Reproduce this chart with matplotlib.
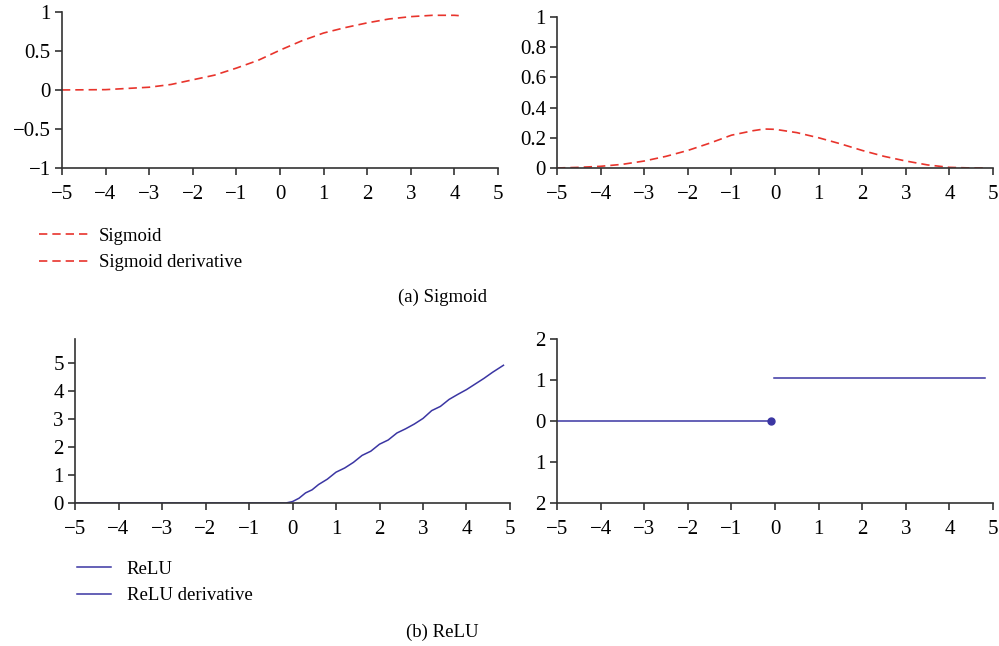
import matplotlib
matplotlib.use('Agg')
import matplotlib.pyplot as plt

plt.rcParams['font.family'] = ['Liberation Serif', 'DejaVu Serif']
plt.rcParams['axes.unicode_minus'] = True

# sigmoid curve
sig_x = [-5, -4, -3, -2.5, -2, -1.5, -1, -0.5, 0, 0.5, 1, 1.5, 2, 2.5, 3, 3.5, 4, 4.1]
sig_y = [0.0, 0.004, 0.035, 0.07, 0.13, 0.19, 0.28, 0.38, 0.51, 0.63, 0.73, 0.80,
         0.86, 0.91, 0.94, 0.957, 0.957, 0.953]

# sigmoid derivative
dsig_x = [-5, -4.5, -4, -3.5, -3, -2.5, -2, -1.5, -1, -0.5, -0.25, 0, 0.5, 1, 1.5,
          2, 2.5, 3, 3.5, 4, 4.5, 4.8]
dsig_y = [0.0, 0.004, 0.011, 0.024, 0.046, 0.077, 0.116, 0.164, 0.217, 0.247, 0.258,
          0.256, 0.234, 0.20, 0.16, 0.116, 0.077, 0.046, 0.02, 0.004, 0.0, 0.0]

# ReLU
relu_x = [-5, -0.15, 0, 0.15, 0.3, 0.45, 0.6, 0.8, 1.0, 1.2, 1.4, 1.6, 1.8, 2.0, 2.2,
          2.4, 2.6, 2.8, 3.0, 3.2, 3.4, 3.6, 3.8, 4.0, 4.2, 4.4, 4.6, 4.85]
relu_y = [0, 0, 0.05, 0.17, 0.36, 0.47, 0.66, 0.85, 1.1, 1.25, 1.45, 1.7, 1.85, 2.1,
          2.25, 2.5, 2.65, 2.82, 3.02, 3.3, 3.45, 3.7, 3.88, 4.05, 4.25, 4.45, 4.67, 4.92]

# ReLU derivative: two pieces and the point at the jump
drelu_low_x = [-5, -0.09]
drelu_low_y = [0, 0]
drelu_high_x = [-0.03, 4.82]
drelu_high_y = [1.05, 1.05]
dot_x, dot_y = -0.09, 0

x_ticks = [-5, -4, -3, -2, -1, 0, 1, 2, 3, 4, 5]
x_labels = ['\u22125', '\u22124', '\u22123', '\u22122', '\u22121', '0', '1', '2', '3', '4', '5']

red = '#e8342c'
blue = '#3b36a3'
fs_tick = 15
fs = 13.5

fig = plt.figure(figsize=(9.99, 6.46), dpi=100)


def style(ax):
    for s in ['top', 'right']:
        ax.spines[s].set_visible(False)
    for s in ['left', 'bottom']:
        ax.spines[s].set_color('#333333')
        ax.spines[s].set_linewidth(1.2)
    ax.tick_params(direction='out', length=5, width=1.2, color='#333333',
                   labelsize=fs_tick)
    ax.tick_params(axis='x', pad=7)
    ax.tick_params(axis='y', pad=3)
    ax.set_xlim(-5, 5)
    ax.set_xticks(x_ticks)
    ax.set_xticklabels(x_labels)


# (a) sigmoid
ax1 = fig.add_axes([0.062, 0.740, 0.4365, 0.2415])
style(ax1)
l1, = ax1.plot(sig_x, sig_y, color=red, ls='--', lw=1.2, dashes=(5, 3))
ax1.set_ylim(-1, 1)
ax1.set_yticks([-1, -0.5, 0, 0.5, 1])
ax1.set_yticklabels(['\u22121', '\u22120.5', '0', '0.5', '1'])

ax2 = fig.add_axes([0.5576, 0.740, 0.4364, 0.2337])
style(ax2)
l2, = ax2.plot(dsig_x, dsig_y, color=red, ls='--', lw=1.2, dashes=(5, 3))
ax2.set_ylim(0, 1)
ax2.set_yticks([0, 0.2, 0.4, 0.6, 0.8, 1])
ax2.set_yticklabels(['0', '0.2', '0.4', '0.6', '0.8', '1'])

fig.legend([l1, l2], ['Sigmoid', 'Sigmoid derivative'], loc='upper left',
           bbox_to_anchor=(0.022, 0.674), frameon=False, fontsize=fs,
           handlelength=2.6, handletextpad=0.6, labelspacing=0.5)
fig.text(0.443, 1 - 297 / 646, '(a) Sigmoid', ha='center', va='center', fontsize=fs)

# (b) ReLU
ax3 = fig.add_axes([0.0751, 0.2214, 0.4354, 0.2539])
style(ax3)
l3, = ax3.plot(relu_x, relu_y, color=blue, lw=1.1)
ax3.set_ylim(0, 5.86)
ax3.set_yticks([0, 1, 2, 3, 4, 5])

ax4 = fig.add_axes([0.5576, 0.2214, 0.4364, 0.2539])
style(ax4)
l4, = ax4.plot(drelu_low_x, drelu_low_y, color=blue, lw=1.1)
ax4.plot(drelu_high_x, drelu_high_y, color=blue, lw=1.1)
ax4.plot([dot_x], [dot_y], 'o', color=blue, ms=5)
ax4.set_ylim(-2, 2)
ax4.set_yticks([-2, -1, 0, 1, 2])
ax4.set_yticklabels(['2', '1', '0', '1', '2'])

fig.legend([l3, l4], ['ReLU', 'ReLU derivative'], loc='upper left',
           bbox_to_anchor=(0.060, 0.158), frameon=False, fontsize=fs,
           handlelength=1.8, handletextpad=0.85, labelspacing=0.5)
fig.text(0.443, 1 - 632 / 646, '(b) ReLU', ha='center', va='center', fontsize=fs)

fig.savefig('out.png', dpi=100)
